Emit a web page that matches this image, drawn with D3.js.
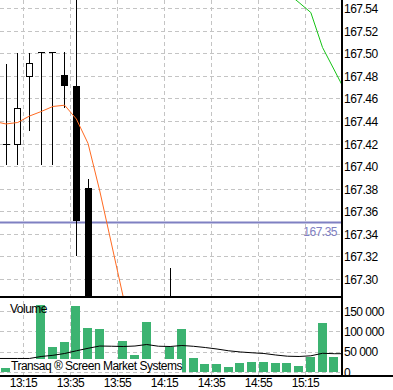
<!DOCTYPE html>
<html>
<head>
<meta charset="utf-8">
<script src="https://cdn.jsdelivr.net/npm/d3@7/dist/d3.min.js"></script>
<style>
body { margin: 0; background: #fff; }
svg text { font-family: "Liberation Sans", Arial, sans-serif; font-size: 12px; letter-spacing: -0.5px; }
</style>
</head>
<body>
<script>
// 5 min candles that reach into the visible price range
var candleTimes = ["13:05", "13:10", "13:15", "13:20", "13:25", "13:30", "13:35", "13:40", "14:15"];
var candleOpen  = [167.420, 167.420, 167.480, 167.501, 167.501, 167.481, 167.471, 167.381, 167.270];
var candleHigh  = [167.490, 167.500, 167.500, 167.501, 167.501, 167.501, 167.580, 167.389, 167.310];
var candleLow   = [167.401, 167.401, 167.431, 167.401, 167.401, 167.451, 167.320, 167.220, 167.250];
var candleClose = [167.420, 167.451, 167.491, 167.501, 167.501, 167.471, 167.351, 167.250, 167.260];

// orange moving average on price
var maTimes  = ["13:00", "13:05", "13:10", "13:15", "13:20", "13:25", "13:30", "13:35", "13:40", "13:45", "13:50", "13:55", "14:00"];
var maValues = [167.4395, 167.4373, 167.4386, 167.4443, 167.4483, 167.4528, 167.4539, 167.4417, 167.4200, 167.3779, 167.3310, 167.2840, 167.2400];

// green line, top right
var greenTimes  = ["15:05", "15:10", "15:15", "15:20", "15:25", "15:30"];
var greenValues = [167.5533, 167.5448, 167.5360, 167.5050, 167.4851, 167.4650];

var lastPrice = 167.35;

// volume
var volTimes = ["13:05", "13:10", "13:15", "13:20", "13:25", "13:30", "13:35", "13:40", "13:45", "13:50",
	"13:55", "14:00", "14:05", "14:10", "14:15", "14:20", "14:25", "14:30", "14:35", "14:40",
	"14:45", "14:50", "14:55", "15:00", "15:05", "15:10", "15:15", "15:20", "15:25"];
var volValues = [10600, 12000, 8000, 165000, 61600, 73900, 162600, 108400, 105900, 25000,
	76400, 41900, 123200, 6000, 62300, 105900, 35200, 19700, 19700, 13100,
	22900, 25400, 25400, 22200, 22200, 15500, 37700, 121400, 37700];

// black moving average on volume
var volMaTimes = ["13:00", "13:05", "13:10", "13:15", "13:20", "13:25", "13:30", "13:35", "13:40", "13:45",
	"13:50", "13:55", "14:00", "14:05", "14:10", "14:15", "14:20", "14:25", "14:30", "14:35",
	"14:40", "14:45", "14:50", "14:55", "15:00", "15:05", "15:10", "15:15", "15:20", "15:25", "15:30"];
var volMaValues = [33300, 33300, 33300, 33300, 38200, 41100, 45600, 52200, 58400, 64000,
	63500, 62800, 64000, 67700, 63500, 62800, 65300, 63300, 60300, 56600,
	52200, 49300, 47300, 45600, 41900, 38900, 38200, 39900, 46100, 45100, 45100];

var priceTicks = [167.30, 167.32, 167.34, 167.36, 167.38, 167.40, 167.42, 167.44, 167.46, 167.48, 167.50, 167.52, 167.54];
var volTicks = [0, 50000, 100000, 150000];
var timeTicks = ["13:15", "13:35", "13:55", "14:15", "14:35", "14:55", "15:15"];

function toMin(s) {
	var p = s.split(":");
	return (+p[0]) * 60 + (+p[1]);
}

var W = 393, H = 390;
var plotW = 341;          // right price axis
var priceBottom = 297;
var volZero = 372;
var bottomLine = 376;

var svg = d3.select("body").append("svg")
	.attr("width", W)
	.attr("height", H)
	.style("display", "block");

svg.append("rect").attr("width", W).attr("height", H).attr("fill", "#fff");

var xs = d3.scaleLinear()
	.domain([toMin(volTimes[0]), toMin(volTimes[volTimes.length - 1]) + 5])
	.range([0, 340]);
var ys = d3.scaleLinear().domain([167.30, 167.54]).range([279, 8]);
var vs = d3.scaleLinear().domain([0, 50000]).range([volZero, volZero - 20.3]);

function cx(t) { return Math.floor(xs(toMin(t)) + 6) + 0.5; }
function lx(t) { return xs(toMin(t)) + 6; }
function crisp(v) { return Math.round(v) + 0.5; }

var defs = svg.append("defs");
defs.append("clipPath").attr("id", "clipPrice")
	.append("rect").attr("x", 0).attr("y", 0).attr("width", plotW).attr("height", priceBottom);
defs.append("clipPath").attr("id", "clipVol")
	.append("rect").attr("x", 0).attr("y", priceBottom).attr("width", plotW).attr("height", volZero - priceBottom);

var grid = svg.append("g")
	.attr("stroke", "#c4c4c4")
	.attr("stroke-dasharray", "4,3")
	.attr("shape-rendering", "crispEdges");

// vertical grid
grid.selectAll(".vg").data(timeTicks).enter().append("line")
	.attr("x1", function(d) { return crisp(xs(toMin(d))); })
	.attr("x2", function(d) { return crisp(xs(toMin(d))); })
	.attr("y1", 0)
	.attr("y2", bottomLine);

// horizontal price grid
grid.selectAll(".pg").data(priceTicks).enter().append("line")
	.attr("x1", 0)
	.attr("x2", plotW)
	.attr("y1", function(d) { return crisp(ys(d)); })
	.attr("y2", function(d) { return crisp(ys(d)); });

// horizontal volume grid
grid.selectAll(".vgg").data(volTicks).enter().append("line")
	.attr("x1", 0)
	.attr("x2", plotW)
	.attr("y1", function(d) { return crisp(vs(d)); })
	.attr("y2", function(d) { return crisp(vs(d)); });

// ---------- price panel
var pp = svg.append("g").attr("clip-path", "url(#clipPrice)");

// last price line
pp.append("line")
	.attr("x1", 0).attr("x2", plotW)
	.attr("y1", ys(lastPrice)).attr("y2", ys(lastPrice))
	.attr("stroke", "#7f80c2")
	.attr("stroke-width", 2);

var candles = candleTimes.map(function(t, i) {
	return {t: t, o: candleOpen[i], h: candleHigh[i], l: candleLow[i], c: candleClose[i]};
});

var cg = pp.append("g").attr("shape-rendering", "crispEdges");

cg.selectAll(".wick").data(candles).enter().append("line")
	.attr("x1", function(d) { return cx(d.t); })
	.attr("x2", function(d) { return cx(d.t); })
	.attr("y1", function(d) { return Math.round(ys(d.h)); })
	.attr("y2", function(d) { return Math.round(ys(d.l)); })
	.attr("stroke", "#000");

// bodies: doji tick, hollow (up) or filled (down)
candles.forEach(function(d) {
	var x = cx(d.t);
	var yo = Math.round(ys(d.o)), yc = Math.round(ys(d.c));
	if (yo == yc) {
		cg.append("line")
			.attr("x1", x - 3.5).attr("x2", x + 3.5)
			.attr("y1", yo + 0.5).attr("y2", yo + 0.5)
			.attr("stroke", "#000");
	} else if (d.c > d.o) {
		cg.append("rect")
			.attr("x", x - 3).attr("width", 6)
			.attr("y", yc + 0.5).attr("height", yo - yc)
			.attr("fill", "#fff")
			.attr("stroke", "#000");
	} else {
		cg.append("rect")
			.attr("x", x - 3.5).attr("width", 7)
			.attr("y", yo).attr("height", yc - yo)
			.attr("fill", "#000");
	}
});

var maLine = d3.line()
	.x(function(d) { return lx(d[0]); })
	.y(function(d) { return ys(d[1]); });

pp.append("path")
	.datum(maTimes.map(function(t, i) { return [t, maValues[i]]; }))
	.attr("d", maLine)
	.attr("fill", "none")
	.attr("stroke", "#ff6a21")
	.attr("stroke-width", 1);

pp.append("path")
	.datum(greenTimes.map(function(t, i) { return [t, greenValues[i]]; }))
	.attr("d", maLine)
	.attr("fill", "none")
	.attr("stroke", "#16c316")
	.attr("stroke-width", 1);

svg.append("text")
	.attr("x", plotW - 4)
	.attr("y", ys(lastPrice) + 13)
	.attr("text-anchor", "end")
	.attr("fill", "#7f80c2")
	.text(d3.format(".2f")(lastPrice));

// ---------- volume panel
var vp = svg.append("g").attr("clip-path", "url(#clipVol)");

vp.selectAll(".vbar").data(volTimes).enter().append("rect")
	.attr("x", function(d) { return Math.round(xs(toMin(d))) + 1; })
	.attr("width", 9)
	.attr("y", function(d, i) { return Math.round(vs(volValues[i])); })
	.attr("height", function(d, i) { return volZero - Math.round(vs(volValues[i])); })
	.attr("fill", "#3cb371")
	.attr("shape-rendering", "crispEdges");

vp.append("path")
	.datum(volMaTimes.map(function(t, i) { return [t, volMaValues[i]]; }))
	.attr("d", d3.line()
		.x(function(d) { return lx(d[0]); })
		.y(function(d) { return vs(d[1]); }))
	.attr("fill", "none")
	.attr("stroke", "#000")
	.attr("stroke-width", 1);

svg.append("text")
	.attr("x", 10)
	.attr("y", 313)
	.attr("fill", "#000")
	.text("Volume");

var brand = svg.append("g");
var brandBox = brand.append("rect").attr("fill", "#fff");
var brandText = brand.append("text")
	.attr("x", 11)
	.attr("y", 370)
	.attr("fill", "#000")
	.text("Transaq \u00AE Screen Market Systems");
var bw = brandText.node().getComputedTextLength();
brandBox.attr("x", 10).attr("y", 359).attr("width", bw + 1).attr("height", volZero - 359);

// ---------- axes and frame
var frame = svg.append("g").attr("stroke", "#000").attr("shape-rendering", "crispEdges");
frame.append("line").attr("x1", 0).attr("x2", plotW).attr("y1", priceBottom).attr("y2", priceBottom).attr("stroke-width", 2);
frame.append("line").attr("x1", plotW + 1).attr("x2", plotW + 1).attr("y1", 0).attr("y2", bottomLine + 1).attr("stroke-width", 2);
frame.append("line").attr("x1", 0).attr("x2", W).attr("y1", bottomLine).attr("y2", bottomLine).attr("stroke-width", 2);

svg.selectAll(".pl").data(priceTicks).enter().append("text")
	.attr("x", plotW + 3)
	.attr("y", function(d) { return ys(d) + 5; })
	.attr("fill", "#000")
	.text(function(d) { return d3.format(".2f")(d); });

svg.selectAll(".vl").data(volTicks).enter().append("text")
	.attr("x", plotW + 3)
	.attr("y", function(d) { return vs(d) + 4.5; })
	.attr("fill", "#000")
	.text(function(d) { return d3.format(",")(d).replace(/,/g, " "); });

svg.selectAll(".tl").data(timeTicks).enter().append("text")
	.attr("x", function(d) { return crisp(xs(toMin(d))); })
	.attr("y", 387)
	.attr("text-anchor", "middle")
	.attr("fill", "#000")
	.text(function(d) { return d; });
</script>
</body>
</html>
